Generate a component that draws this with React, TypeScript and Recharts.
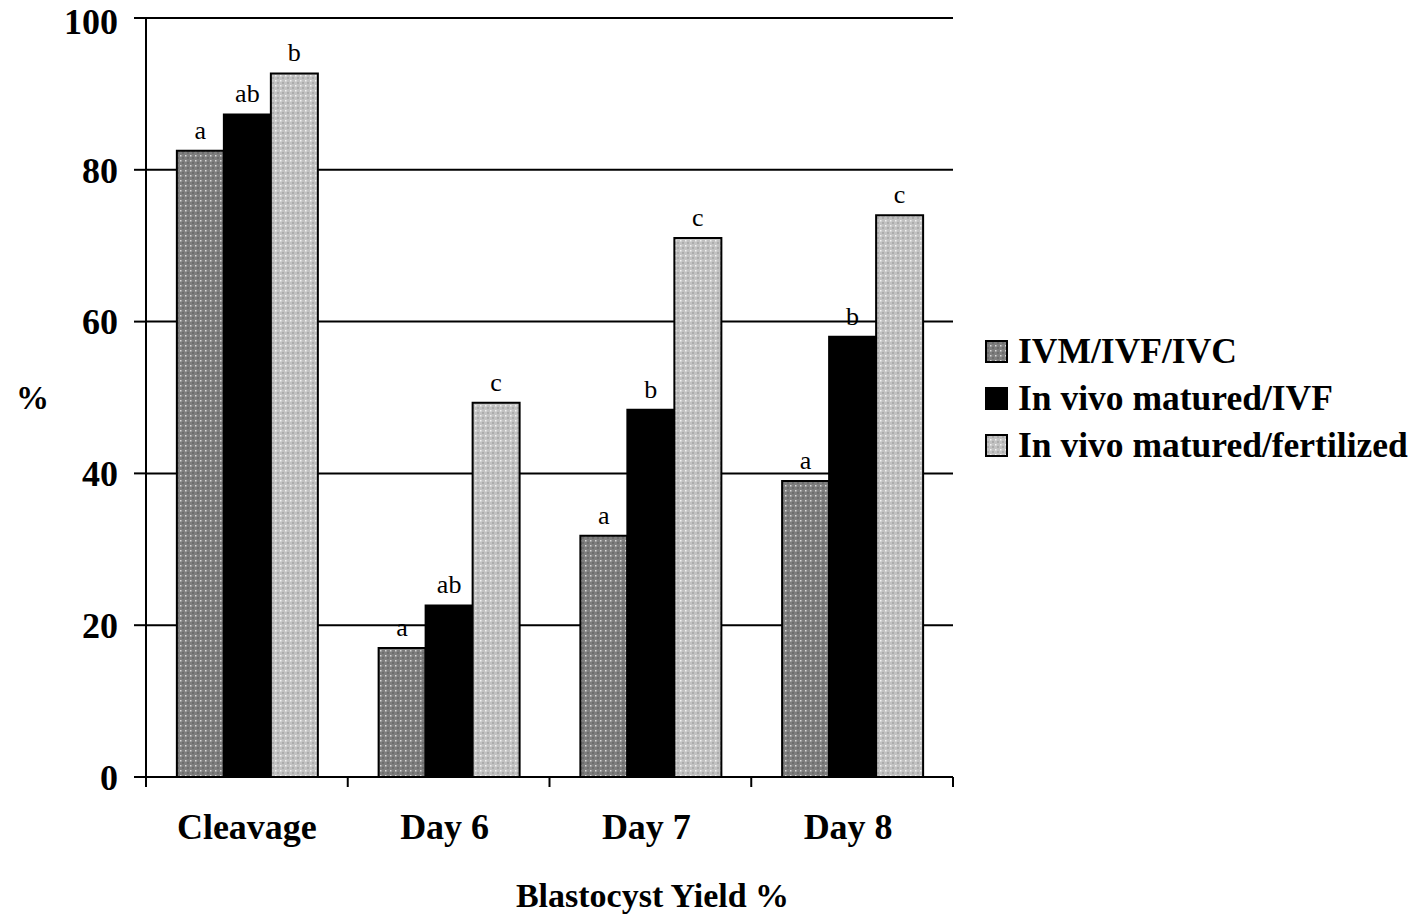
import { Bar, BarChart, CartesianGrid, LabelList, XAxis, YAxis } from 'recharts'

const categories = ['Cleavage', 'Day 6', 'Day 7', 'Day 8']
const seriesNames = ['IVM/IVF/IVC', 'In vivo matured/IVF', 'In vivo matured/fertilized']
const ivmValues = [82.5, 17, 31.8, 39]
const ivfValues = [87.3, 22.6, 48.4, 58]
const fertValues = [92.7, 49.3, 71, 74]
const ivmLetters = ['a', 'a', 'a', 'a']
const ivfLetters = ['ab', 'ab', 'b', 'b']
const fertLetters = ['b', 'c', 'c', 'c']
const yTicks = [0, 20, 40, 60, 80, 100]

const FILLS = ['url(#patIvm)', '#000000', 'url(#patFert)']
const FONT = '"Liberation Serif", "DejaVu Serif", serif'

const W = 1417
const H = 917
const PLOT_LEFT = 146
const PLOT_RIGHT = 953
const HALF_BAND = (PLOT_RIGHT - PLOT_LEFT) / categories.length / 2

const data = categories.map((name, i) => ({
  name,
  ivm: ivmValues[i],
  ivf: ivfValues[i],
  fert: fertValues[i],
}))

function XTick({ x, y, payload, index }: any) {
  const axisY = y - 36
  return (
    <g>
      <line x1={x - HALF_BAND} x2={x - HALF_BAND} y1={axisY} y2={axisY + 10} stroke="#000" strokeWidth={2} />
      {index === categories.length - 1 && (
        <line x1={x + HALF_BAND} x2={x + HALF_BAND} y1={axisY} y2={axisY + 10} stroke="#000" strokeWidth={2} />
      )}
      <text
        x={index === 0 ? x : x - 4}
        y={y}
        dy="0.71em"
        textAnchor="middle"
        fill="#000"
        fontFamily={FONT}
        fontWeight="bold"
        fontSize={36}
      >
        {payload.value}
      </text>
    </g>
  )
}

function letterLabel(letters: string[]) {
  return (props: any) => {
    const { x, y, width, index } = props
    return (
      <text x={x + width / 2} y={y - 12} textAnchor="middle" fill="#000" fontFamily={FONT} fontSize={26}>
        {letters[index]}
      </text>
    )
  }
}

function Patterns() {
  return (
    <defs>
      <pattern id="patIvm" width="5" height="5" patternUnits="userSpaceOnUse">
        <rect width="5" height="5" fill="#7e7e7e" />
        <rect x="0" y="0" width="1.5" height="1.5" fill="#dadada" />
        <rect x="2.5" y="2.5" width="1" height="1" fill="#3a3a3a" />
      </pattern>
      <pattern id="patFert" width="5" height="5" patternUnits="userSpaceOnUse">
        <rect width="5" height="5" fill="#c2c2c2" />
        <rect x="0" y="0" width="1.5" height="1.5" fill="#f4f4f4" />
        <rect x="2.5" y="2.5" width="1" height="1" fill="#6a6a6a" />
      </pattern>
    </defs>
  )
}

export default function App() {
  return (
    <div style={{ position: 'absolute', left: 0, top: 0, width: W, height: H, background: '#fff' }}>
      <BarChart
        width={W}
        height={H}
        data={data}
        margin={{ top: 18, right: W - PLOT_RIGHT, left: PLOT_LEFT - 60, bottom: 0 }}
        barCategoryGap="15.3%"
        barGap={0}
      >
        <Patterns />
        <CartesianGrid vertical={false} stroke="#000" strokeWidth={2} />
        <XAxis
          dataKey="name"
          height={140}
          axisLine={{ stroke: '#000', strokeWidth: 2 }}
          tickLine={false}
          tickSize={10}
          tickMargin={26}
          tick={<XTick />}
          interval={0}
          label={{
            value: 'Blastocyst Yield %',
            position: 'insideBottom',
            offset: 10,
            dx: 103,
            fill: '#000',
            fontFamily: FONT,
            fontWeight: 'bold',
            fontSize: 34,
          }}
        />
        <YAxis
          width={60}
          domain={[0, 100]}
          ticks={yTicks}
          axisLine={{ stroke: '#000', strokeWidth: 2 }}
          tickLine={{ stroke: '#000', strokeWidth: 2 }}
          tickSize={12}
          tickMargin={16}
          tick={{ fill: '#000', fontFamily: FONT, fontWeight: 'bold', fontSize: 36 }}
          label={{
            value: '%',
            position: 'insideLeft',
            offset: -70,
            fill: '#000',
            fontFamily: FONT,
            fontWeight: 'bold',
            fontSize: 33,
          }}
        />
        <YAxis yAxisId="right" orientation="right" width={0} domain={[0, 100]} tick={false} axisLine={{ stroke: '#000', strokeWidth: 2 }} />
        <Bar dataKey="ivm" name={seriesNames[0]} fill={FILLS[0]} stroke="#000" strokeWidth={2} isAnimationActive={false}>
          <LabelList dataKey="ivm" content={letterLabel(ivmLetters)} />
        </Bar>
        <Bar dataKey="ivf" name={seriesNames[1]} fill={FILLS[1]} stroke="#000" strokeWidth={2} isAnimationActive={false}>
          <LabelList dataKey="ivf" content={letterLabel(ivfLetters)} />
        </Bar>
        <Bar dataKey="fert" name={seriesNames[2]} fill={FILLS[2]} stroke="#000" strokeWidth={2} isAnimationActive={false}>
          <LabelList dataKey="fert" content={letterLabel(fertLetters)} />
        </Bar>
      </BarChart>
      <div style={{ position: 'absolute', left: 985, top: 328, fontFamily: FONT, fontWeight: 'bold', fontSize: 35.5, lineHeight: '47px' }}>
        {seriesNames.map((name, i) => (
          <div key={name} style={{ display: 'flex', alignItems: 'center', whiteSpace: 'nowrap' }}>
            <svg width={24} height={24} style={{ marginRight: 9 }}>
              <rect x={1} y={1} width={21} height={21} fill={FILLS[i]} stroke="#000" strokeWidth={2} />
            </svg>
            {name}
          </div>
        ))}
      </div>
    </div>
  )
}
